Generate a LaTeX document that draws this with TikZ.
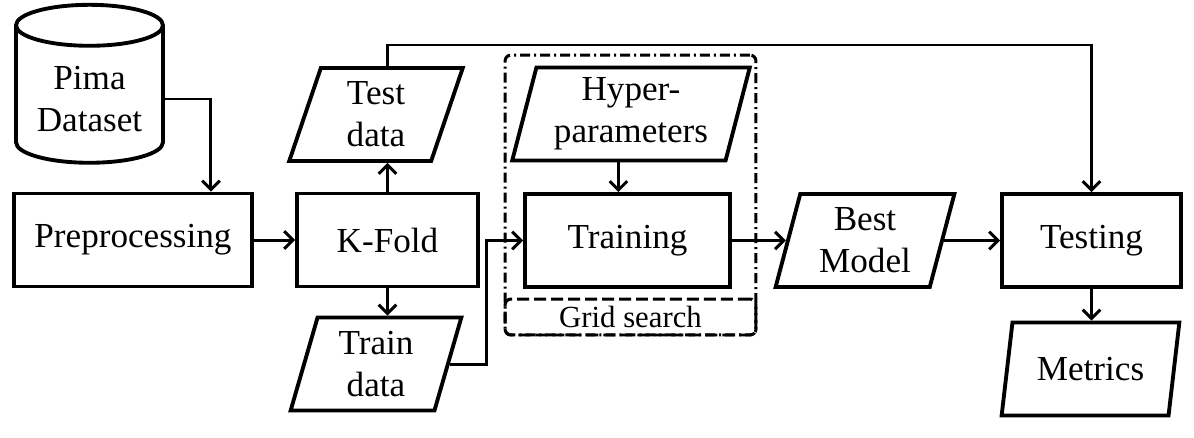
\documentclass[tikz,border=0pt]{standalone}
\usepackage{fontspec}
\setmainfont{Liberation Serif}
\usetikzlibrary{shapes.geometric,arrows.meta,calc}
\tikzset{
  proc/.style={ % process box
    draw, rectangle, line width=2.2pt, minimum height=1.86cm,
    inner sep=2pt, align=center
  },
  data/.style={ % input/output parallelogram
    draw, trapezium, trapezium left angle=75.5, trapezium right angle=104.5,
    trapezium stretches=true, line width=2.2pt, minimum height=1.86cm,
    inner sep=2pt, align=center
  },
  db/.style={ % dataset drum
    draw, cylinder, shape border rotate=90, aspect=0.35, line width=2.2pt,
    minimum width=2.94cm, minimum height=3.16cm, align=center
  },
  arr/.style={-{Straight Barb[length=5pt,width=10pt]}, line width=1.7pt}
}

\begin{document}
\begin{tikzpicture}[x=0.02cm, y=-0.02cm, font=\fontsize{20}{24}\selectfont]
  \useasboundingbox (0,0) rectangle (1194,437);

  % grid search frame
  \node[draw, line width=1.7pt, rounded corners=0.12cm,
    dash pattern=on 0.2cm off 0.08cm on 0.04cm off 0.08cm,
    minimum width=5.02cm, minimum height=5.6cm] (search) at (630.5,195) {};
  \node[draw, line width=1.7pt, rounded corners=0.12cm,
    dash pattern=on 0.24cm off 0.1cm, minimum width=5.02cm, minimum height=0.72cm,
    font=\fontsize{17.5}{20}\selectfont] (grid) at (630.5,317) {Grid search};

  \node[db] (pima) at (89.5,99) {Pima\\Dataset};
  \node[proc, minimum width=4.76cm] (prep) at (133,240) {Preprocessing};
  \node[proc, minimum width=3.62cm] (kfold) at (387.5,240) {K-Fold};
  \node[data, minimum width=3.48cm] (test_data) at (376,114.5) {Test\\data};
  \node[data, minimum width=3.44cm] (train_data) at (376,364) {Train\\data};
  \node[data, minimum width=4.76cm] (hyper) at (631,114) {Hyper-\\parameters};
  \node[proc, minimum width=4.1cm] (training) at (627.5,240.5) {Training};
  \node[data, minimum width=3.6cm] (best_model) at (865,240.5) {Best\\Model};
  \node[proc, minimum width=3.58cm] (testing) at (1091.5,240.5) {Testing};
  \node[data, minimum width=3.58cm] (metrics) at (1090.5,369) {Metrics};
  \coordinate (top_line) at (0,45);

  \draw[arr] (pima.east) -| ([xshift=1.56cm]prep.north);
  \draw[arr] (prep) -- (kfold);
  \draw[arr] (kfold.north) -- (kfold.north |- test_data.south);
  \draw[arr] (kfold.south) -- (kfold.south |- train_data.north);
  \draw[arr] (kfold.north |- test_data.north) -- (kfold.north |- top_line) -| (testing.north);
  \draw[arr] (train_data.right side) -- ++(37,0) |- (training.west);
  \draw[arr] (hyper.bottom side) -- (hyper.bottom side |- training.north);
  \draw[arr] (training.east) -- (best_model.left side);
  \draw[arr] (best_model.right side) -- (testing.west);
  \draw[arr] (testing.south) -- (testing.south |- metrics.north);
\end{tikzpicture}
\end{document}
